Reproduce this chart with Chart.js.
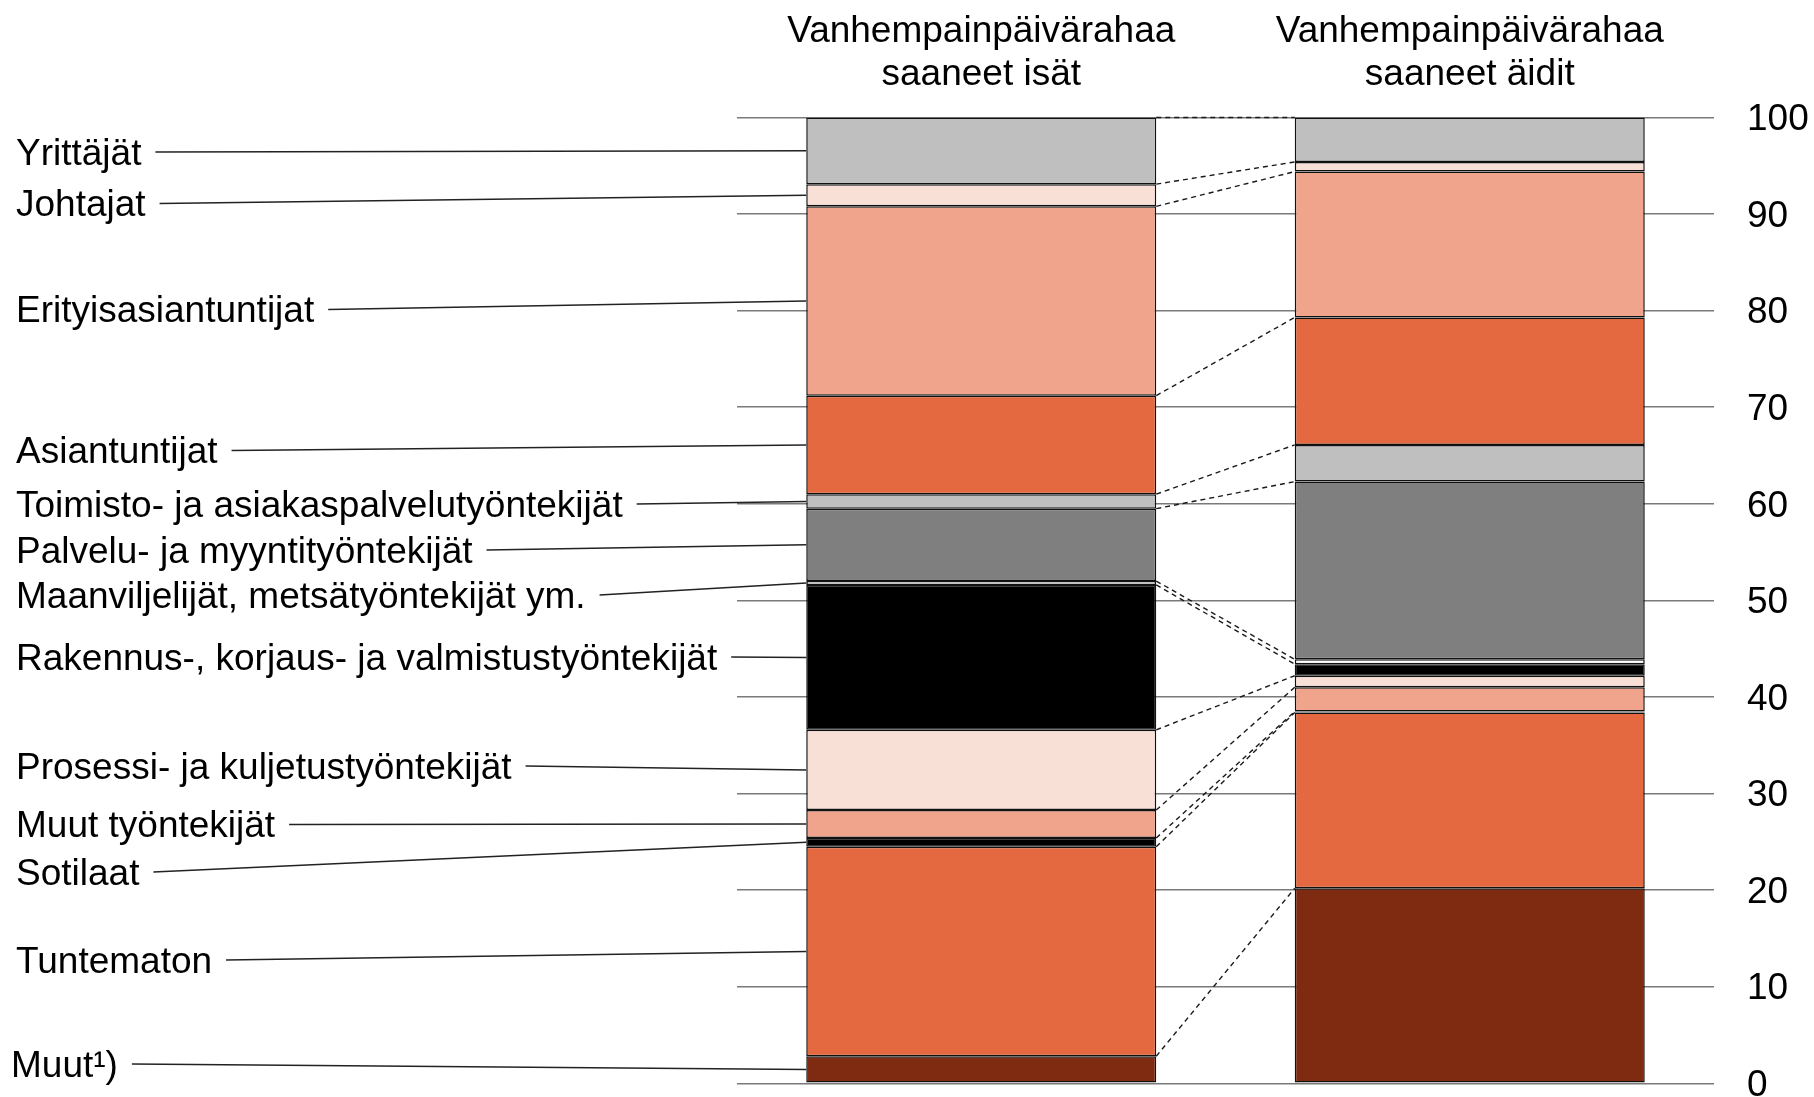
<!DOCTYPE html>
<html lang="fi">
<head>
<meta charset="utf-8">
<title>Vanhempainpäivärahaa saaneet isät ja äidit ammattiaseman mukaan</title>
<script src="https://cdn.jsdelivr.net/npm/chart.js@4.4.1/dist/chart.umd.min.js"></script>
<style>
  html, body { margin: 0; padding: 0; background: #fff; }
  canvas { display: block; }
</style>
</head>
<body>
<canvas id="chart" width="1814" height="1097"></canvas>
<script>
// Ammattiryhmät alhaalta ylös (pinon järjestys)
const categories = [
  'Muut¹)',
  'Tuntematon',
  'Sotilaat',
  'Muut työntekijät',
  'Prosessi- ja kuljetustyöntekijät',
  'Rakennus-, korjaus- ja valmistustyöntekijät',
  'Maanviljelijät, metsätyöntekijät ym.',
  'Palvelu- ja myyntityöntekijät',
  'Toimisto- ja asiakaspalvelutyöntekijät',
  'Asiantuntijat',
  'Erityisasiantuntijat',
  'Johtajat',
  'Yrittäjät'
];
const columnTitles = [
  ['Vanhempainpäivärahaa', 'saaneet isät'],
  ['Vanhempainpäivärahaa', 'saaneet äidit']
];
// Osuudet, %
const isat  = [2.8, 21.7, 0.9, 2.9, 8.3, 15.0, 0.4, 7.5, 1.5, 10.2, 19.6, 2.3, 6.9];
const aidit = [20.2, 18.2, 0.1, 2.5, 1.2, 1.2, 0.5, 18.4, 3.8, 13.2, 15.1, 1.0, 4.6];
const yTicks = [0, 10, 20, 30, 40, 50, 60, 70, 80, 90, 100];

const colors = ['#7f2b12', '#e46840', '#000000', '#f0a48b', '#f9e0d7', '#000000', '#ffffff',
                '#7f7f7f', '#bfbfbf', '#e46840', '#f0a48b', '#f9e0d7', '#bfbfbf'];

// selitteiden paikat vasemmalla (px)
const labelY = [1066.5, 962.5, 874.5, 827, 768.5, 659.5, 597.5, 552.5, 506.5, 453, 312, 206, 154.5];
const FONT = '37px "Liberation Sans", Arial, sans-serif';

const connectors = {
  id: 'connectors',
  afterDatasetsDraw(chart) {
    const ctx = chart.ctx;
    ctx.save();
    ctx.strokeStyle = '#1a1a1a';
    ctx.lineWidth = 1.4;
    ctx.setLineDash([5, 4]);
    chart.data.datasets.forEach((ds, i) => {
      const meta = chart.getDatasetMeta(i);
      const a = meta.data[0], b = meta.data[1];
      ctx.beginPath();
      ctx.moveTo(a.x + a.width / 2, a.y);
      ctx.lineTo(b.x - b.width / 2, b.y);
      ctx.stroke();
    });
    ctx.restore();
  }
};

const labels = {
  id: 'sideLabels',
  afterDraw(chart) {
    const ctx = chart.ctx;
    ctx.save();
    ctx.font = FONT;
    ctx.fillStyle = '#000';
    ctx.textBaseline = 'middle';

    // sarakkeiden otsikot
    ctx.textAlign = 'center';
    const meta0 = chart.getDatasetMeta(0);
    columnTitles.forEach((lines, c) => {
      const x = meta0.data[c].x;
      ctx.fillText(lines[0], x, 31.5);
      ctx.fillText(lines[1], x, 74.5);
    });

    // ryhmien nimet ja viivat isien pylvääseen
    ctx.textAlign = 'left';
    ctx.strokeStyle = '#222';
    ctx.lineWidth = 1.5;
    categories.forEach((name, i) => {
      const el = chart.getDatasetMeta(i).data[0];
      const tx = i === 0 ? 11 : 16;
      const ty = labelY[i];
      ctx.fillText(name, tx, ty);
      const w = ctx.measureText(name).width;
      ctx.beginPath();
      ctx.moveTo(tx + w + 14, ty - 2.5);
      ctx.lineTo(el.x - el.width / 2, (el.y + el.base) / 2);
      ctx.stroke();
    });
    ctx.restore();
  }
};

new Chart(document.getElementById('chart'), {
  type: 'bar',
  data: {
    labels: ['isät', 'äidit'],
    datasets: categories.map((name, i) => ({
      label: name,
      data: [isat[i], aidit[i]],
      backgroundColor: colors[i],
      borderColor: '#111',
      borderWidth: 1.5,
      borderSkipped: false,
      barPercentage: 0.7165,
      categoryPercentage: 1
    }))
  },
  options: {
    responsive: false,
    animation: false,
    devicePixelRatio: 1,
    layout: { padding: { left: 737, top: 117.5, right: 0, bottom: 13.7 } },
    plugins: { legend: { display: false }, tooltip: { enabled: false } },
    scales: {
      x: { stacked: true, display: false },
      y: {
        stacked: true,
        position: 'right',
        min: 0,
        max: 100,
        afterBuildTicks: s => { s.ticks = yTicks.map(v => ({ value: v })); },
        afterFit: s => { s.width = 100; s.paddingTop = 0; s.paddingBottom = 0; },
        border: { display: false },
        grid: { color: '#7a7a7a', lineWidth: 1.5, drawTicks: false },
        ticks: {
          padding: 33,
          labelOffset: 2.5,
          color: '#000',
          font: { family: '"Liberation Sans", Arial, sans-serif', size: 37 }
        }
      }
    }
  },
  plugins: [connectors, labels]
});
</script>
</body>
</html>
